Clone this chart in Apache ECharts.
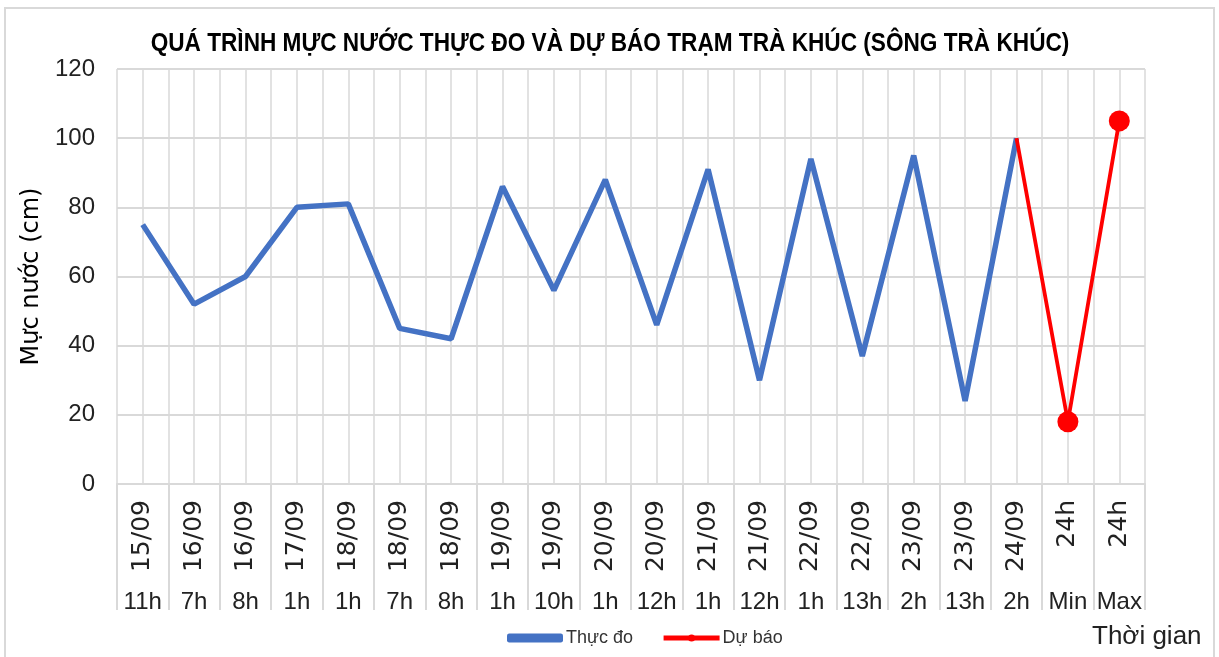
<!DOCTYPE html>
<html style="height: 100%">

<head>
    <meta charset="utf-8">
</head>

<body style="height: 100%; margin: 0; background: #fff">
    <div id="container" style="width: 1219px; height: 657px"></div>
    <script type="text/javascript" src="https://cdn.jsdelivr.net/npm/echarts@6/dist/echarts.min.js"></script>
    <script type="text/javascript">
        // data
        var dateLabels = ['15/09', '16/09', '16/09', '17/09', '18/09', '18/09', '18/09', '19/09', '19/09', '20/09',
            '20/09', '21/09', '21/09', '22/09', '22/09', '23/09', '23/09', '24/09', '24h', '24h'];
        var hourLabels = ['11h', '7h', '8h', '1h', '1h', '7h', '8h', '1h', '10h', '1h',
            '12h', '1h', '12h', '1h', '13h', '2h', '13h', '2h', 'Min', 'Max'];
        var observed = [75, 52, 60, 80, 81, 45, 42, 86, 56, 88, 46, 91, 30, 94, 37, 95, 24, 100, null, null];
        var forecast = [null, null, null, null, null, null, null, null, null, null,
            null, null, null, null, null, null, null, 100, 18, 105];

        var sans = '"Liberation Sans", sans-serif';
        var gridColor = '#d9d9d9';
        var textColor = '#222';
        var blue = '#4472c4';
        var red = '#ff0000';

        var dom = document.getElementById("container");
        var myChart = echarts.init(dom);

        var forecastData = forecast.map(function (v, i) {
            // no marker on the point shared with the measured line
            if (i === 17) return { value: v, symbol: 'none' };
            return v;
        });

        var option = {
            backgroundColor: '#fff',
            animation: false,
            legend: {
                top: 624,
                left: 502,
                itemWidth: 56,
                itemHeight: 9,
                itemGap: 28,
                textStyle: { fontFamily: sans, fontSize: 18, color: '#333', padding: [0, 0, 0, -2] },
                data: [{
                    name: 'Thực đo',
                    icon: 'roundRect',
                    itemStyle: { color: blue }
                }, {
                    name: 'Dự báo',
                    lineStyle: { width: 5, color: red },
                    itemStyle: { color: red }
                }]
            },
            grid: {
                left: 117,
                right: 74,
                top: 69,
                bottom: 173
            },
            xAxis: [{
                type: 'category',
                data: dateLabels,
                boundaryGap: true,
                axisLine: { lineStyle: { color: gridColor, width: 2 } },
                axisTick: { show: true, length: 126, interval: 0, lineStyle: { color: gridColor, width: 2 } },
                axisLabel: {
                    interval: 0,
                    rotate: 90,
                    margin: 16,
                    fontFamily: '"DejaVu Sans", sans-serif',
                    fontSize: 25,
                    color: textColor
                },
                splitLine: { show: false }
            }, {
                type: 'category',
                data: hourLabels,
                position: 'bottom',
                offset: 98,
                boundaryGap: true,
                axisLine: { show: false },
                axisTick: { show: false },
                axisLabel: {
                    interval: 0,
                    margin: 8,
                    fontFamily: sans,
                    fontSize: 24,
                    color: textColor
                },
                splitLine: { show: false }
            }, {
                // only draws the vertical gridlines every half category
                type: 'value',
                min: 0,
                max: dateLabels.length,
                interval: 0.5,
                show: true,
                position: 'top',
                axisLine: { show: false },
                axisTick: { show: false },
                axisLabel: { show: false },
                splitLine: { show: true, lineStyle: { color: gridColor, width: 1.5 } }
            }],
            yAxis: {
                type: 'value',
                min: 0,
                max: 120,
                interval: 20,
                name: 'Mực nước (cm)',
                nameLocation: 'middle',
                nameGap: 72,
                nameTextStyle: {
                    fontFamily: '"DejaVu Sans", sans-serif',
                    fontSize: 24,
                    color: '#000'
                },
                axisLine: { show: false },
                axisTick: { show: false },
                axisLabel: {
                    margin: 22,
                    fontFamily: sans,
                    fontSize: 24,
                    color: textColor
                },
                splitLine: { lineStyle: { color: gridColor, width: 2 } }
            },
            graphic: [{
                type: 'rect',
                shape: { x: 5, y: 8, width: 1209, height: 660 },
                style: { fill: 'none', stroke: '#d9d9d9', lineWidth: 2 },
                silent: true
            }, {
                // title, squeezed horizontally like the narrow original font
                type: 'text',
                x: 610,
                y: 44,
                scaleX: 0.87,
                style: {
                    text: 'QUÁ TRÌNH MỰC NƯỚC THỰC ĐO VÀ DỰ BÁO TRẠM TRÀ KHÚC (SÔNG TRÀ KHÚC)',
                    align: 'center',
                    verticalAlign: 'middle',
                    font: 'bold 26px "Liberation Sans", sans-serif',
                    fill: '#000'
                }
            }, {
                type: 'text',
                left: 1092,
                top: 624,
                style: {
                    text: 'Thời gian',
                    font: '26px "Liberation Sans", sans-serif',
                    fill: '#222'
                }
            }],
            series: [{
                name: 'Thực đo',
                type: 'line',
                data: observed,
                symbol: 'none',
                lineStyle: { color: blue, width: 5.5 },
                itemStyle: { color: blue }
            }, {
                name: 'Dự báo',
                type: 'line',
                data: forecastData,
                symbol: 'circle',
                symbolSize: 21,
                lineStyle: { color: red, width: 3.8 },
                itemStyle: { color: red }
            }]
        };

        if (option && typeof option === "object") {
            myChart.setOption(option, true);
        }
    </script>
</body>

</html>
